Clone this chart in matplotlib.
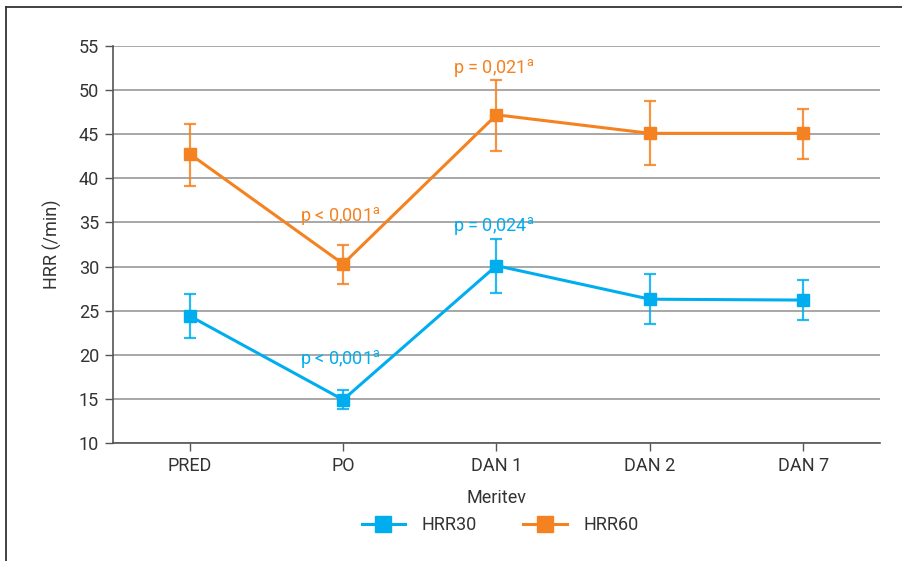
import matplotlib
matplotlib.use("Agg")
import matplotlib.pyplot as plt
from matplotlib.lines import Line2D

plt.rcParams['font.family'] = ['Roboto', 'DejaVu Sans']
plt.rcParams['mathtext.fontset'] = 'custom'
plt.rcParams['mathtext.rm'] = 'Roboto'

categories = ["PRED", "PO", "DAN 1", "DAN 2", "DAN 7"]

hrr30_mean = [24.4, 14.9, 30.1, 26.3, 26.2]
hrr30_upper = [26.9, 16.0, 33.1, 29.2, 28.45]
hrr30_lower = [21.9, 13.9, 27.0, 23.5, 23.9]

hrr60_mean = [42.77, 30.3, 47.2, 45.1, 45.1]
hrr60_upper = [46.2, 32.4, 51.2, 48.8, 47.9]
hrr60_lower = [39.15, 28.0, 43.1, 41.55, 42.2]

# significance notes: (category index, y position, text, series)
notes = [
    (1, 35.7, "p < 0,001", "HRR60"),
    (2, 52.5, "p = 0,021", "HRR60"),
    (2, 34.6, "p = 0,024", "HRR30"),
    (1, 19.5, "p < 0,001", "HRR30"),
]

BLUE = "#00AEEF"
ORANGE = "#F58220"
TEXT = "#333333"
GRID = "#a0a0a0"

fig = plt.figure(figsize=(9.03, 5.61), dpi=100)
ax = fig.add_axes([113 / 903, 1 - 443 / 561, (880 - 113) / 903, (443 - 46) / 561])

x = list(range(len(categories)))

for mean, up, lo, col in [(hrr30_mean, hrr30_upper, hrr30_lower, BLUE),
                          (hrr60_mean, hrr60_upper, hrr60_lower, ORANGE)]:
    yerr = [[m - l for m, l in zip(mean, lo)], [u - m for m, u in zip(mean, up)]]
    ax.errorbar(x, mean, yerr=yerr, fmt='none', ecolor=col, elinewidth=1.6,
                capsize=4.5, capthick=1.6, alpha=0.85, zorder=3)
    ax.plot(x, mean, color=col, lw=2.2, marker='s', markersize=8,
            markeredgecolor=col, zorder=4)

colors = {"HRR30": BLUE, "HRR60": ORANGE}
for i, yv, txt, series in notes:
    ax.text(i - 0.02, yv, txt + r"$^{\mathrm{a}}$", color=colors[series],
            fontsize=13, ha='center', va='center', zorder=5)

ax.set_xlim(-0.5, 4.5)
ax.set_ylim(10, 55)
ax.set_yticks(range(10, 56, 5))
ax.set_xticks(x)
ax.set_xticklabels(categories)
ax.yaxis.grid(True, color=GRID, lw=1.3)
ax.set_axisbelow(True)
for s in ["top", "right"]:
    ax.spines[s].set_visible(False)
for s in ["left", "bottom"]:
    ax.spines[s].set_color("#555555")
    ax.spines[s].set_linewidth(1.2)
ax.tick_params(axis='both', colors="#555555", labelcolor=TEXT, labelsize=13,
               length=6, width=1, direction='out', pad=4)

ax.set_ylabel("HRR (/min)", fontsize=13, color=TEXT, labelpad=12)
ax.set_xlabel("Meritev", fontsize=13, color=TEXT, labelpad=10)

handles = [
    Line2D([], [], color=BLUE, lw=2.2, marker='s', markersize=11),
    Line2D([], [], color=ORANGE, lw=2.2, marker='s', markersize=11),
]
fig.legend(handles, ["HRR30", "HRR60"], loc='center', bbox_to_anchor=(500 / 903, 1 - 525 / 561),
           ncol=2, frameon=False, fontsize=13, handlelength=2.4, columnspacing=2.6,
           handletextpad=0.9, labelcolor=TEXT)

# outer frame lines
fig.add_artist(Line2D([6 / 903, 6 / 903], [0, 1 - 7 / 561], transform=fig.transFigure,
                      color="#333333", lw=1.3))
fig.add_artist(Line2D([6 / 903, 1], [1 - 7 / 561, 1 - 7 / 561], transform=fig.transFigure,
                      color="#333333", lw=1.3))

fig.savefig("out.png", dpi=100)
